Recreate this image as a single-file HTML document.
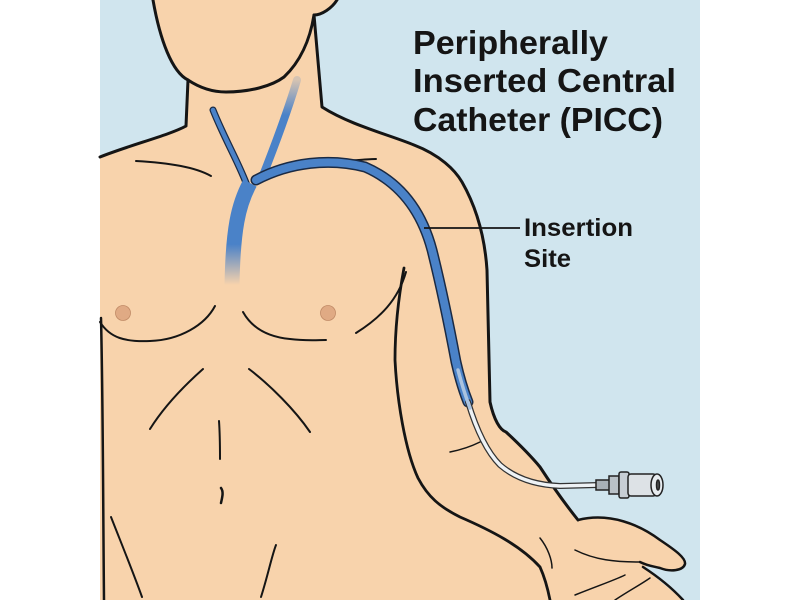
<!DOCTYPE html>
<html><head><meta charset="utf-8"><style>
html,body{margin:0;padding:0;background:#fff;}
svg{display:block}
</style></head><body>
<svg width="800" height="600" viewBox="0 0 800 600" xmlns="http://www.w3.org/2000/svg">
<defs>
<linearGradient id="vt" x1="0" y1="0" x2="0" y2="1">
<stop offset="0" stop-color="#4a82c8"/><stop offset="0.6" stop-color="#4a82c8"/><stop offset="1" stop-color="#4a82c8" stop-opacity="0"/>
</linearGradient>
<linearGradient id="vj" x1="0" y1="80" x2="0" y2="180" gradientUnits="userSpaceOnUse">
<stop offset="0" stop-color="#4a82c8" stop-opacity="0.2"/><stop offset="0.35" stop-color="#4a82c8"/><stop offset="1" stop-color="#4a82c8"/>
</linearGradient>
</defs>
<rect x="100" y="0" width="600" height="600" fill="#d0e5ee"/>
<path d="M153,0 L337,0 C330,10 322,15 314,15 L322,107 C350,125 390,135 414,145 C440,155 455,170 462,182 C478,210 485,240 487,270 L490,402 C494,420 500,430 506,432 C520,445 530,455 540,467 C555,490 570,510 578,520 C610,512 640,525 660,540 C675,550 686,558 685,564 C683,571 670,572 660,568 C652,566 648,566 643,567 L683,600 L100,600 L100,157 C130,145 170,135 186,126 L188,80 C175,70 160,40 153,0 Z" fill="#f8d3ac"/>
<g fill="none" stroke="#151515" stroke-width="3" stroke-linecap="round" stroke-linejoin="round">
<path d="M153,0 C160,40 172,72 188,80 C200,88 212,92 226,92 C250,92 272,86 284,77 C300,62 310,40 314,15 C322,15 332,8 337,0"/>
<path d="M188,80 L186,126 C170,135 130,145 100,157"/>
<path d="M314,15 L322,107 C350,125 390,135 414,145 C440,155 455,170 462,182 C478,210 485,240 487,270 L490,402 C494,420 500,430 506,432 C520,445 530,455 540,467 C555,490 570,510 578,520"/>
<path d="M578,520 C610,512 640,525 660,540 C675,550 686,558 685,564 C683,571 670,572 660,568 C652,566 648,566 640,562" stroke-width="2.5"/>
<path d="M643,567 C660,578 672,588 683,600" stroke-width="2.5"/>
<path d="M101,318 C103,400 103,500 104,600" stroke-width="2.5"/>
<path d="M404,268 C398,300 395,330 395,360 C397,400 405,450 418,478 C428,497 440,507 460,517 C490,530 520,545 540,567 C545,578 548,590 550,600" stroke-width="2.8"/>
</g>
<g fill="none" stroke="#151515" stroke-width="2" stroke-linecap="round">
<path d="M136,161 C170,163 195,167 211,176"/>
<path d="M345,161 C360,160 370,159 376,159"/>
<path d="M100,322 C110,338 125,342 150,341 C180,340 205,325 215,306"/>
<path d="M243,312 C252,328 268,337 290,339 C305,341 318,340 326,340"/>
<path d="M356,333 C380,318 398,300 406,272"/>
<path d="M203,369 C185,385 165,405 150,429"/>
<path d="M249,369 C270,385 295,410 310,432"/>
<path d="M219,421 C220,435 220,448 220,459"/>
<path d="M221,488 C224,492 222,498 221,503" stroke-width="2.5"/>
<path d="M111,517 C122,545 133,572 142,597"/>
<path d="M261,597 C268,575 272,555 276,545"/>
<path d="M450,452 C460,450 472,446 480,442" stroke-width="1.5"/>
<path d="M540,538 C548,548 552,560 552,568" stroke-width="1.5"/>
<path d="M575,550 C595,560 615,562 640,562" stroke-width="1.5"/>
<path d="M575,595 C600,585 615,580 625,575" stroke-width="1.5"/>
<path d="M615,600 C630,590 640,585 650,578" stroke-width="1.5"/>
</g>
<circle cx="123" cy="313" r="7.5" fill="#e0aa84" stroke="#c08a66" stroke-width="0.8"/>
<circle cx="328" cy="313" r="7.5" fill="#e0aa84" stroke="#c08a66" stroke-width="0.8"/>
<g stroke-linecap="round" fill="none">
<path d="M213,110 C225,140 240,165 248,188" stroke="#1a2a44" stroke-width="7"/>
<path d="M213,110 C225,140 240,165 248,188" stroke="#4a82c8" stroke-width="4.5"/>
<path d="M297,80 C288,110 275,145 262,178" stroke="url(#vj)" stroke-width="8"/>
<path d="M250,183 C238,205 233,230 232,285" stroke="url(#vt)" stroke-width="15" stroke-linecap="butt"/>
<path d="M256,180 C290,162 330,158 365,167 C395,180 420,205 432,250 C442,290 450,330 456,362 C460,380 464,392 468,402" stroke="#1a2a44" stroke-width="11"/>
<path d="M256,180 C290,162 330,158 365,167 C395,180 420,205 432,250 C442,290 450,330 456,362 C460,380 464,392 468,402" stroke="#4a82c8" stroke-width="8"/>
<path d="M468,402 C475,425 485,450 500,465 C515,478 535,485 560,486 L598,485" stroke="#333" stroke-width="6"/>
<path d="M468,402 C475,425 485,450 500,465 C515,478 535,485 560,486 L598,485" stroke="#eef2f5" stroke-width="3.5"/>
<path d="M458,370 C462,385 465,395 470,408" stroke="#aac3e0" stroke-width="3.5"/>
</g>
<g stroke="#222" stroke-width="1.5">
<rect x="596" y="480" width="14" height="10" fill="#a8b0b6"/>
<rect x="609" y="476" width="10" height="18" fill="#b9c1c7"/>
<rect x="619" y="472" width="10" height="26" rx="2" fill="#c7ced4"/>
<rect x="628" y="474" width="28" height="22" rx="3" fill="#dde2e6"/>
<ellipse cx="657" cy="485" rx="6" ry="11" fill="#e8ecef"/>
<ellipse cx="658" cy="485" rx="1.5" ry="5" fill="#555"/>
</g>
<line x1="424" y1="228" x2="520" y2="228" stroke="#151515" stroke-width="1.8"/>
<g font-family="Liberation Sans, sans-serif" fill="#151515">
<text x="524" y="236" font-size="25" font-weight="bold" textLength="109" lengthAdjust="spacingAndGlyphs">Insertion</text>
<text x="524" y="267" font-size="25" font-weight="bold" textLength="47" lengthAdjust="spacingAndGlyphs">Site</text>
<text x="413" y="54" font-size="33" font-weight="bold" textLength="195" lengthAdjust="spacingAndGlyphs">Peripherally</text>
<text x="413" y="92" font-size="33" font-weight="bold" textLength="263" lengthAdjust="spacingAndGlyphs">Inserted Central</text>
<text x="413" y="131" font-size="33" font-weight="bold" textLength="250" lengthAdjust="spacingAndGlyphs">Catheter (PICC)</text>
</g>
</svg>
</body></html>
